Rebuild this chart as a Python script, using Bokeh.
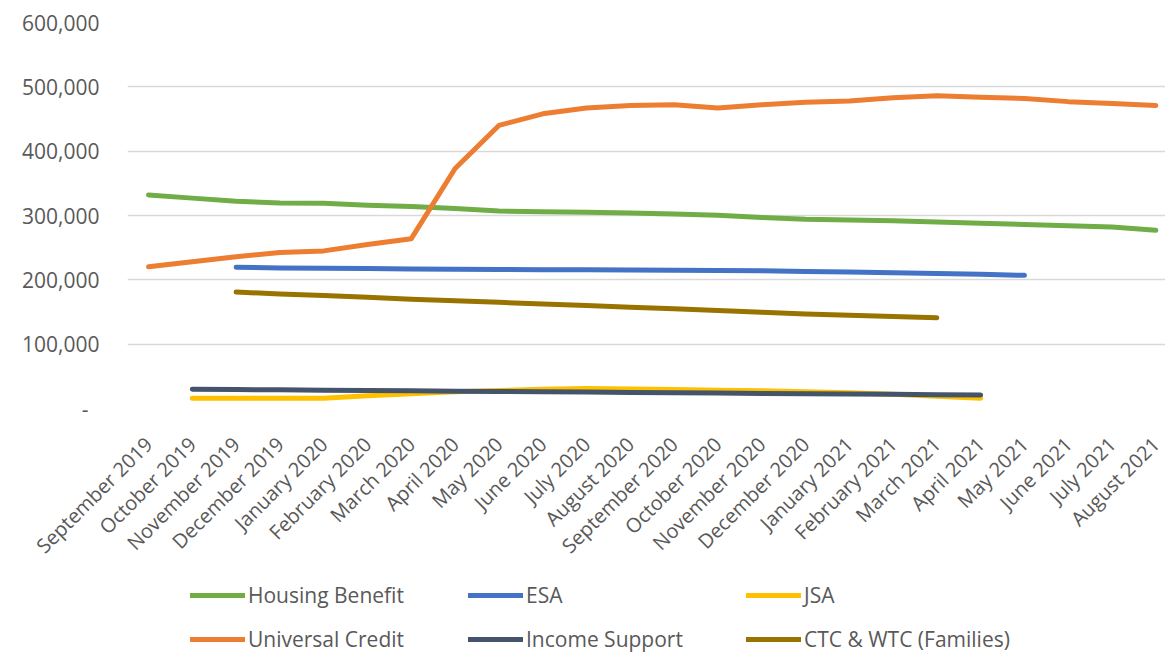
import math
from bokeh.plotting import figure
from bokeh.layouts import column
from bokeh.models import (Range1d, FixedTicker, NumeralTickFormatter, Legend, LegendItem)
from bokeh.embed import file_html
from bokeh.resources import INLINE

NaN = float("nan")

months = ["September 2019", "October 2019", "November 2019", "December 2019",
          "January 2020", "February 2020", "March 2020", "April 2020", "May 2020",
          "June 2020", "July 2020", "August 2020", "September 2020", "October 2020",
          "November 2020", "December 2020", "January 2021", "February 2021",
          "March 2021", "April 2021", "May 2021", "June 2021", "July 2021", "August 2021"]

housing_benefit = [332000, 327000, 322000, 319500, 319000, 316000, 314000, 311000, 307000,
                   306000, 305000, 304000, 302500, 300500, 297000, 294000, 293000, 292000,
                   290000, 288000, 286000, 284000, 282000, 277000]

esa = [NaN, NaN, 219500, 218500, 218000, 217500, 217000, 216500, 216000, 215800, 215500,
       215200, 215000, 214500, 214000, 213000, 212000, 211000, 210000, 208500, 207000,
       NaN, NaN, NaN]

jsa = [NaN, 16000, 16000, 16000, 16000, 20000, 23000, 26000, 28000, 30000, 31000, 30500,
       29500, 28500, 27500, 26000, 24500, 22000, 19000, 16000, NaN, NaN, NaN, NaN]

universal_credit = [220500, 228000, 236000, 242500, 245000, 255000, 264000, 373000, 440000,
                    458000, 467000, 471000, 472000, 467000, 472000, 476000, 478000, 483000,
                    486000, 484000, 482000, 477000, 474000, 471000]

income_support = [NaN, 30000, 29500, 29000, 28500, 28000, 27500, 27000, 26500, 26000, 25500,
                  25000, 24500, 24000, 23500, 23000, 22500, 22000, 21500, 21000,
                  NaN, NaN, NaN, NaN]

ctc_wtc = [NaN, NaN, 181000, 178000, 175500, 173000, 170000, 167500, 165000, 162500, 160000,
           157500, 155000, 152500, 149500, 147000, 145000, 143000, 141000,
           NaN, NaN, NaN, NaN, NaN]

series = [
    ("Housing Benefit", housing_benefit, "#70AD47"),
    ("ESA", esa, "#4472C4"),
    ("JSA", jsa, "#FFC000"),
    ("Universal Credit", universal_credit, "#ED7D31"),
    ("Income Support", income_support, "#44546A"),
    ("CTC & WTC (Families)", ctc_wtc, "#997300"),
]

x = list(range(len(months)))

FONT = "Open Sans"
TXT = "#595959"

p = figure(width=1165, height=571, output_backend="svg", toolbar_location=None,
           x_range=Range1d(-0.48, 23.22), y_range=Range1d(0, 600000),
           min_border_left=127, min_border_top=22, min_border_right=0,
           min_border_bottom=160)
p.outline_line_color = None
p.background_fill_color = "white"
p.border_fill_color = "white"

for name, vals, color in series:
    p.line(x, vals, line_color=color, line_width=5, line_cap="round", line_join="round")

p.xgrid.grid_line_color = None
p.ygrid.grid_line_color = "#d9d9d9"
p.ygrid.grid_line_width = 1.5
p.yaxis.ticker = FixedTicker(ticks=[0, 100000, 200000, 300000, 400000, 500000, 600000])
p.yaxis.formatter = NumeralTickFormatter(format="0,0")
p.yaxis.major_label_overrides = {0: "-\u00a0\u00a0"}
p.yaxis.axis_line_color = None
p.yaxis.major_tick_line_color = None
p.yaxis.minor_tick_line_color = None
p.yaxis.major_label_standoff = 22
p.yaxis.major_label_text_font = FONT
p.yaxis.major_label_text_font_size = "21px"
p.yaxis.major_label_text_color = TXT

p.xaxis.ticker = FixedTicker(ticks=x)
p.xaxis.major_label_overrides = {i: m for i, m in enumerate(months)}
p.xaxis.major_label_orientation = math.pi / 4
p.xaxis.axis_line_color = None
p.xaxis.major_tick_line_color = None
p.xaxis.minor_tick_line_color = None
p.xaxis.major_label_standoff = 26
p.xaxis.major_label_text_font = FONT
p.xaxis.major_label_text_font_size = "20px"
p.xaxis.major_label_text_color = TXT

# legend panel below the chart (its frame is aligned with the chart's frame)
lg = figure(width=1165, height=86, output_backend="svg", toolbar_location=None,
            x_range=Range1d(0, 1), y_range=Range1d(0, 1),
            x_axis_location=None, y_axis_location=None,
            min_border_left=0, min_border_right=0, min_border_top=0, min_border_bottom=0)
lg.outline_line_color = None
lg.xgrid.grid_line_color = None
lg.ygrid.grid_line_color = None
items = []
for name, vals, color in series:
    # swatch-only renderers, placed outside the visible range
    r = lg.line([5, 6], [5, 6], line_color=color, line_width=5, line_cap="round")
    items.append(LegendItem(label=name, renderers=[r]))

legend = Legend(items=items, orientation="horizontal", ncols=3, location=(63, -4),
                glyph_width=55, glyph_height=44, label_height=44, label_width=220,
                label_standoff=3, spacing=0, padding=0, margin=0,
                border_line_color=None, background_fill_alpha=0,
                label_text_font=FONT, label_text_font_size="21px", label_text_color=TXT)
lg.add_layout(legend, "center")

layout = column(p, lg, spacing=0)
open("out.html", "w").write(file_html(layout, INLINE))
